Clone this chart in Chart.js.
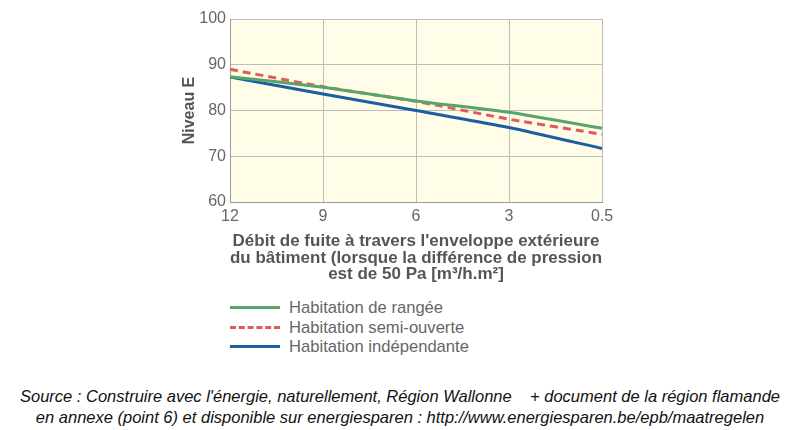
<!DOCTYPE html>
<html>
<head>
<meta charset="utf-8">
<script src="https://cdn.jsdelivr.net/npm/chart.js@4/dist/chart.umd.min.js"></script>
<style>
  body { margin: 0; background: #fff; width: 800px; height: 430px; overflow: hidden; font-family: "Liberation Sans", Arial, sans-serif; }
  #wrap { position: absolute; left: 0; top: 0; width: 800px; height: 290px; }
  #legend { position: absolute; left: 230px; top: 298px; color: #666; font-size: 16.6px; }
  #legend div { height: 19.5px; line-height: 19.5px; white-space: nowrap; }
  #legend span.sw { display: inline-block; width: 50px; height: 0; vertical-align: middle; margin-right: 9px; position: relative; top: -1px; }
  #source { position: absolute; left: 0; width: 800px; top: 386px; text-align: center; font-style: italic; font-size: 16.5px; color: #111; line-height: 20.5px; }
</style>
</head>
<body>
<div id="wrap"><canvas id="c"></canvas></div>
<div id="legend"></div>
<div id="source">Source : Construire avec l'énergie, naturellement, Région Wallonne &nbsp;&nbsp; + document de la région flamande<br>en annexe (point 6) et disponible sur energiesparen : http://www.energiesparen.be/epb/maatregelen</div>
<script>
const debits = ["12", "9", "6", "3", "0.5"];
const rangee = [87.4, 85.1, 82.1, 79.6, 76.1];
const semiOuverte = [89.0, 85.2, 82.0, 78.1, 74.8];
const independante = [87.3, 83.6, 80.0, 76.3, 71.7];
const seriesNames = ["Habitation de rangée", "Habitation semi-ouverte", "Habitation indépendante"];

const colors = ["#5aa46a", "#e05b57", "#1c5ea2"];
const dashes = [[], [8, 5], []];

const legend = document.getElementById('legend');
seriesNames.forEach((name, i) => {
    const row = document.createElement('div');
    const sw = document.createElement('span');
    sw.className = 'sw';
    sw.style.borderTop = '3px ' + (dashes[i].length ? 'dashed ' : 'solid ') + colors[i];
    row.appendChild(sw);
    row.appendChild(document.createTextNode(name));
    legend.appendChild(row);
});

const plotBg = {
    id: 'plotBg',
    beforeDraw(chart) {
        const { ctx, chartArea: a } = chart;
        ctx.save();
        ctx.fillStyle = '#fffce8';
        ctx.fillRect(a.left, a.top, a.right - a.left, a.bottom - a.top);
        ctx.restore();
    }
};

new Chart(document.getElementById('c'), {
    type: 'line',
    data: {
        labels: debits,
        datasets: [rangee, semiOuverte, independante].map((d, i) => ({
            label: seriesNames[i],
            data: d,
            borderColor: colors[i],
            borderWidth: 3,
            borderDash: dashes[i],
            pointRadius: 0,
            tension: 0.15,
            fill: false
        }))
    },
    options: {
        responsive: true,
        maintainAspectRatio: false,
        animation: false,
        layout: { padding: { left: 180, top: 19, right: 198, bottom: 0 } },
        plugins: { legend: { display: false }, tooltip: { enabled: false } },
        scales: {
            x: {
                offset: false,
                grid: { color: '#bdbdbd', lineWidth: 1, drawTicks: false },
                border: { color: '#999' },
                ticks: { color: '#666', font: { size: 16, family: 'Liberation Sans' }, padding: 5, maxRotation: 0 },
                title: {
                    display: true,
                    text: ["Débit de fuite à travers l'enveloppe extérieure", "du bâtiment (lorsque la différence de pression", "est de 50 Pa [m³/h.m²]"],
                    color: '#555',
                    font: { size: 17, weight: 'bold', family: 'Liberation Sans', lineHeight: 0.97 },
                    padding: { top: 0, bottom: 7 }
                },
                afterFit: (s) => { s.height = 88; }
            },
            y: {
                min: 60,
                max: 100,
                grid: { color: '#bdbdbd', lineWidth: 1, drawTicks: false },
                border: { color: '#999' },
                ticks: { stepSize: 10, color: '#666', font: { size: 16, family: 'Liberation Sans' }, padding: 4 },
                title: {
                    display: true,
                    text: 'Niveau E',
                    color: '#555',
                    font: { size: 16, weight: 'bold', family: 'Liberation Sans' },
                    padding: 0
                },
                afterFit: (s) => { s.width = 50; }
            }
        }
    },
    plugins: [plotBg]
});
</script>
</body>
</html>
